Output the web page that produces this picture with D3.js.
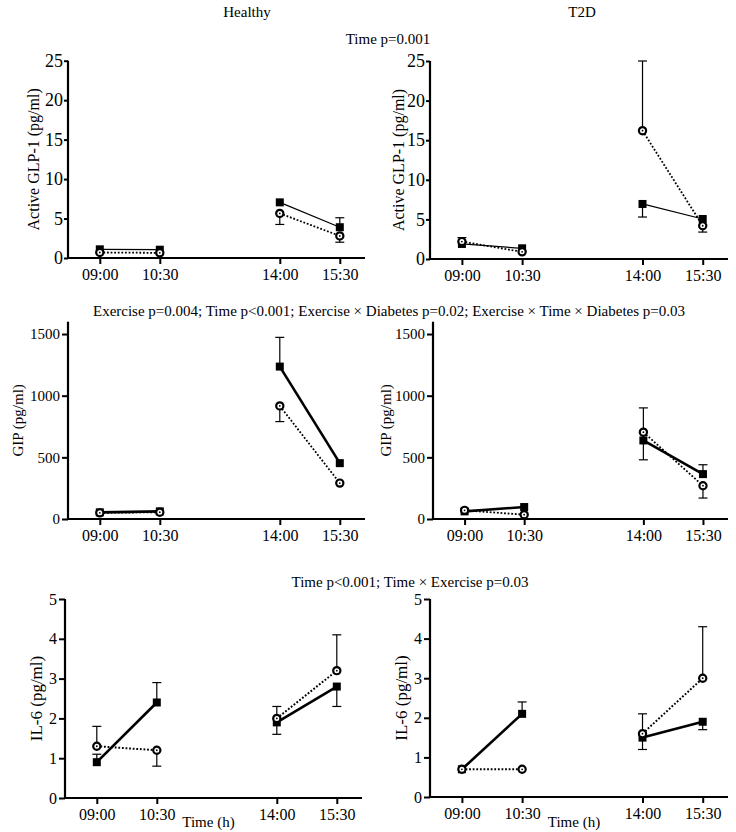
<!DOCTYPE html>
<html><head><meta charset="utf-8">
<script src="https://cdn.jsdelivr.net/npm/d3@7"></script>
<style>body{margin:0;background:#fff}svg{display:block}svg text{font-family:"Liberation Serif","DejaVu Serif","Times New Roman",serif !important;fill:#000}</style>
</head><body>
<svg id="c" width="736" height="832"></svg>
<script>
const timeLabels = ["09:00","10:30","14:00","15:30"];
const timePos = [0,1,3,4];

const glpTicks = [0,5,10,15,20,25];
const gipTicks = [0,500,1000,1500];
const il6Ticks = [0,1,2,3,4,5];

// Active GLP-1
const glpHealthySq = [1.1,1.05,7.05,3.9];
const glpHealthySqErr = [0,0,0,1.2];
const glpHealthyCi = [0.7,0.65,5.65,2.8];
const glpHealthyCiErr = [0,0,-1.4,-0.8];
const glpT2dSq = [1.9,1.35,6.95,5.05];
const glpT2dSqErr = [0,0,-1.65,0];
const glpT2dCi = [2.2,0.9,16.2,4.2];
const glpT2dCiErr = [0.5,0,8.8,-0.8];
// GIP
const gipHealthySq = [54,62,1236,453];
const gipHealthySqErr = [0,0,237,0];
const gipHealthyCi = [50,55,917,291];
const gipHealthyCiErr = [0,0,-127,0];
const gipT2dSq = [62,97,637,364];
const gipT2dSqErr = [0,0,-157,76];
const gipT2dCi = [70,35,704,270];
const gipT2dCiErr = [0,0,197,-100];
// IL-6
const il6HealthySq = [0.9,2.4,1.9,2.8];
const il6HealthySqErr = [0.2,0.5,-0.3,-0.5];
const il6HealthyCi = [1.3,1.2,2.0,3.2];
const il6HealthyCiErr = [0.5,-0.4,0.3,0.9];
const il6T2dSq = [0.7,2.1,1.5,1.9];
const il6T2dSqErr = [0,0.3,-0.3,-0.2];
const il6T2dCi = [0.7,0.7,1.6,3.0];
const il6T2dCiErr = [0,0,0.5,1.3];

const FONT = '"Liberation Serif","DejaVu Serif","Times New Roman",serif';
const svg = d3.select("#c").attr("font-family",FONT);

const panels = [
 {x0:68,x1:365,y0:258,y1:60.7,max:25,ticks:glpTicks,label:"Active GLP-1 (pg/ml)",lab:33,sq:glpHealthySq,sqE:glpHealthySqErr,ci:glpHealthyCi,ciE:glpHealthyCiErr,sw:1.2,dw:1.8,fs:18,ts:4,tp:1},
 {x0:430,x1:728,y0:259,y1:61,max:25,ticks:glpTicks,label:"Active GLP-1 (pg/ml)",lab:398,sq:glpT2dSq,sqE:glpT2dSqErr,ci:glpT2dCi,ciE:glpT2dCiErr,sw:1.2,dw:1.8,fs:18,ts:4,tp:1},
 {x0:68,x1:365,y0:519,y1:321.7,max:1600,ticks:gipTicks,label:"GIP (pg/ml)",lab:18,sq:gipHealthySq,sqE:gipHealthySqErr,ci:gipHealthyCi,ciE:gipHealthyCiErr,sw:2.6,dw:1.8,fs:15,lf:15},
 {x0:433,x1:728,y0:519,y1:321.7,max:1600,ticks:gipTicks,label:"GIP (pg/ml)",lab:386,sq:gipT2dSq,sqE:gipT2dSqErr,ci:gipT2dCi,ciE:gipT2dCiErr,sw:2.6,dw:1.8,fs:15,lf:15},
 {x0:65,x1:362,y0:798,y1:599,max:5,ticks:il6Ticks,label:"IL-6 (pg/ml)",lab:36,sq:il6HealthySq,sqE:il6HealthySqErr,ci:il6HealthyCi,ciE:il6HealthyCiErr,sw:2.6,dw:2,fs:16,lf:17,xl:true},
 {x0:430,x1:728,y0:797,y1:599,max:5,ticks:il6Ticks,label:"IL-6 (pg/ml)",lab:401,sq:il6T2dSq,sqE:il6T2dSqErr,ci:il6T2dCi,ciE:il6T2dCiErr,sw:2.6,dw:2,fs:16,lf:17,xl:true}
];

panels.forEach(p => {
  const x = d3.scaleLinear().domain([-0.53,4.42]).range([p.x0,p.x1]);
  const y = d3.scaleLinear().domain([0,p.max]).range([p.y0,p.y1]);
  const g = svg.append("g");

  const ya = g.append("g").attr("transform",`translate(${p.x0},0)`)
    .call(d3.axisLeft(y).tickValues(p.ticks).tickSize(p.ts||6).tickPadding(p.tp||2).tickFormat(d3.format("d")));
  ya.select(".domain").attr("d",`M0,${p.y0}V${y(p.max)}`);
  const xa = g.append("g").attr("transform",`translate(0,${p.y0})`)
    .call(d3.axisBottom(x).tickValues(timePos).tickSize(6).tickPadding(5).tickFormat((d,i)=>timeLabels[i]));
  xa.select(".domain").attr("d",`M${p.x0},0H${p.x1}`);
  [ya,xa].forEach(a=>{
    a.attr("font-family",FONT);
    a.select(".domain").attr("stroke","#000").attr("stroke-width",2.2);
    a.selectAll(".tick line").attr("stroke","#000").attr("stroke-width",2);
  });
  ya.selectAll(".tick text").attr("font-size",p.fs);
  xa.selectAll(".tick text").attr("font-size",16);

  g.append("text").attr("transform",`translate(${p.lab},${(p.y0+p.y1)/2}) rotate(-90)`)
    .attr("text-anchor","middle").attr("dominant-baseline","central").attr("font-size",p.lf||16).text(p.label);
  if (p.xl) g.append("text").attr("x",(p.x0+p.x1)/2-5).attr("y",827).attr("text-anchor","middle").attr("font-size",15).text("Time (h)");

  const segs = [[0,1],[2,3]];
  const line = d3.line().x(d=>x(timePos[d.i])).y(d=>y(d.v));
  const drawErr = (vals, errs) => {
    vals.forEach((v,i)=>{
      if(!errs[i]) return;
      const cx = x(timePos[i]), ye = y(v+errs[i]);
      g.append("line").attr("x1",cx).attr("x2",cx).attr("y1",y(v)).attr("y2",ye).attr("stroke","#000").attr("stroke-width",1.2);
      g.append("line").attr("x1",cx-4.5).attr("x2",cx+4.5).attr("y1",ye).attr("y2",ye).attr("stroke","#000").attr("stroke-width",1.2);
    });
  };
  drawErr(p.sq,p.sqE); drawErr(p.ci,p.ciE);
  segs.forEach(s=>{
    g.append("path").datum(s.map(i=>({i,v:p.ci[i]}))).attr("d",line)
      .attr("fill","none").attr("stroke","#000").attr("stroke-width",p.dw).attr("stroke-dasharray","1.8,1.8");
    g.append("path").datum(s.map(i=>({i,v:p.sq[i]}))).attr("d",line)
      .attr("fill","none").attr("stroke","#000").attr("stroke-width",p.sw);
  });
  p.sq.forEach((v,i)=>{
    g.append("rect").attr("x",x(timePos[i])-4).attr("y",y(v)-4).attr("width",8).attr("height",8).attr("fill","#000");
  });
  p.ci.forEach((v,i)=>{
    g.append("circle").attr("cx",x(timePos[i])).attr("cy",y(v)).attr("r",3.6).attr("fill","#fff").attr("stroke","#000").attr("stroke-width",2.2);
    g.append("circle").attr("cx",x(timePos[i])).attr("cy",y(v)).attr("r",0.9).attr("fill","#000");
  });
});

const T = (x,y,s,fs)=>svg.append("text").attr("x",x).attr("y",y).attr("text-anchor","middle").attr("font-size",fs).text(s);
T(247,17,"Healthy",15);
T(582,17,"T2D",15);
T(388,44,"Time p=0.001",15);
T(389,316,"Exercise  p=0.004; Time p<0.001; Exercise × Diabetes p=0.02; Exercise × Time × Diabetes p=0.03",15);
T(410,587,"Time p<0.001; Time × Exercise p=0.03",15);
</script>
</body></html>
